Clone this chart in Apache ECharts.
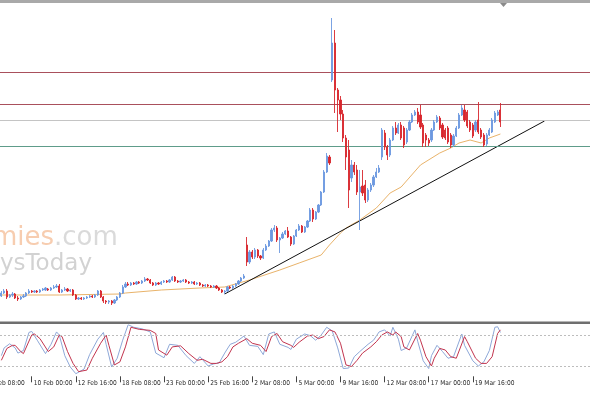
<!DOCTYPE html>
<html><head><meta charset="utf-8">
<script src="https://cdn.jsdelivr.net/npm/echarts@6/dist/echarts.min.js"></script>
<style>html,body{margin:0;padding:0;background:#fff}#c{width:590px;height:393px}</style>
</head><body><div id="c"></div>
<script>
// ---- data (hidden price axis, arbitrary units) ----
const VIEW_FIRST = 15.5, VIEW_LAST = 229.5;   // visible bar range (incl. chart-shift space on the right)
const FIRST_BAR = 16;                         // bar number of the first candle
const tickFirstBar = 11, tickStep = 16;
const tickLabels = ["6 Feb 08:00","10 Feb 00:00","12 Feb 16:00","18 Feb 08:00","23 Feb 00:00","25 Feb 16:00","2 Mar 08:00","5 Mar 00:00","9 Mar 16:00","12 Mar 08:00","17 Mar 00:00","19 Mar 16:00"];

const opens = [22,25,27,21,23,24,20,19,21,22, 25,27,26,27,26,28,28,29,28,30, 31,32,26,28,29,27,28,23,19,20, 19,20,21,22,21,23,27,21,17,16, 17,15,18,21,25,31,34,33,35,34, 36,35,37,39,38,35,33,35,34,36, 37,36,38,41,37,36,37,38,36,35, 36,34,35,33,32,33,32,31,32,30, 28,26,27,31,30,32,34,37,40,73, 56,66,61,68,62,60,68,72,77,88, 90,78,80,84,87,81,74,82,88,92, 86,91,97,108,99,106,113,126,146,161, 238,275,228,218,204,180,168,140,153,148, 126,132,133,118,128,133,141,146,161,185, 171,163,178,190,185,193,190,176,188,196, 203,206,203,193,183,178,178,188,196,200, 193,188,190,183,173,182,190,203,208,206, 196,193,188,198,188,183,174,183,186,196, 203,208];
const closes = [25,27,21,23,24,20,19,21,22,25, 27,26,27,26,28,29,30,28,30,31, 32,26,28,29,27,28,23,19,20,19, 20,21,22,21,23,27,21,17,16,17, 15,18,21,25,31,34,33,35,34,36, 35,37,39,38,35,33,35,34,36,37, 36,38,41,37,36,37,38,36,35,36, 34,35,33,32,33,32,31,32,30,28, 26,27,31,30,32,34,37,40,42,56, 66,61,68,62,60,68,72,77,88,90, 78,80,84,87,81,74,82,88,92,86, 91,97,108,99,106,113,126,146,162,155, 275,228,218,204,180,161,128,153,146,126, 131,125,118,128,133,141,146,150,188,171, 163,178,190,185,193,180,173,188,196,203, 206,196,191,175,178,175,188,196,201,190, 181,180,176,173,182,190,203,210,198,192, 188,182,196,186,181,173,183,188,198,205, 206,196];
const lows = [21,24,19,20,21,19,17,18,20,21, 24,25,25,25,25,27,27,27,27,29, 30,25,25,27,26,26,22,18,18,18, 18,19,20,20,20,22,20,15,14,14, 13,14,17,20,24,30,32,32,33,33, 34,34,36,37,34,32,32,33,33,35, 35,35,37,36,35,35,36,35,34,34, 33,33,32,31,31,31,30,30,29,27, 25,24,26,29,29,31,33,36,39,52, 54,59,59,60,58,59,67,71,76,86, 76,65,79,83,80,72,73,81,87,85, 85,90,96,96,98,105,112,125,145,153, 236,205,186,198,176,148,110,136,143,123, 88,122,115,116,126,131,140,145,158,168, 158,161,177,183,184,178,170,174,187,195, 202,194,189,171,171,172,176,187,195,188, 179,178,174,170,171,181,189,202,196,190, 186,180,186,184,179,171,172,182,185,195, 202,191];
const highs = [27,29,29,24,26,25,22,22,24,26, 29,28,28,28,29,30,31,30,31,33, 34,34,29,31,30,29,29,24,21,21, 21,22,23,23,24,28,28,22,18,18, 18,19,22,26,33,36,36,36,36,37, 37,38,41,40,39,36,36,36,37,38, 38,39,42,42,38,38,39,39,37,37, 37,36,36,34,34,34,33,33,33,31, 29,28,32,32,33,35,38,41,44,81, 68,68,70,69,63,70,74,78,90,93, 92,81,86,88,91,82,83,89,94,93, 92,98,110,110,107,114,127,148,165,163, 300,288,230,222,208,183,178,158,156,153, 148,148,138,130,135,143,150,153,190,188, 173,180,192,196,195,196,192,190,198,205, 208,210,213,195,185,180,190,198,203,202, 195,190,192,185,184,192,205,213,213,208, 198,195,198,216,190,185,185,190,200,207, 208,215];

const maBars   = [16,37,59,61,74,88,97,106,117,124,132,135,139,141,146,152,157,161,168,175,179,182,186,190,193,197];
const maValues = [23,23,24,25,28,30,31,38,48,55,63,73,85,90,98,110,125,131,153,165,170,175,178,175,180,184];

const trendBars = [97,213];
const trendValues = [24,197];

const resistanceLevels = [246,214];
const pivotLevel = 198;
const supportLevel = 172;

const stochKBars = [16,17,19,21,22,24,26,27,29,32,34,36,37,39,41,43,46,48,51,53,54,56,58,60,62,64,67,70,72,75,77,80,83,86,88,91,93,95,97,99,101,104,106,109,111,113,115,117,120,121,123,126,128,130,132,134,136,138,140,142,144,146,149,151,153,155,157,158,160,161,163,166,167,169,171,172,174,176,178,180,183,184,187,189,191,193,195,196,197];
const stochK     = [40,55,63,55,45,50,85,87,70,44,62,86,80,40,18,5,14,42,72,85,62,18,35,70,100,95,92,86,45,36,62,60,40,25,38,20,24,26,45,62,66,78,60,58,42,82,86,62,56,52,72,82,79,70,80,95,88,55,15,16,38,48,62,70,86,90,78,95,72,50,55,90,68,30,15,40,60,48,35,38,82,60,30,20,28,50,95,96,85];
const stochDBars = [16,18,20,21,23,24,27,28,30,33,35,37,38,40,42,44,47,49,52,54,55,57,59,61,63,66,70,72,73,76,78,81,84,87,89,92,94,96,98,100,102,105,107,110,112,114,116,118,121,122,124,127,129,131,133,135,137,139,141,143,145,147,150,152,154,156,158,159,161,162,164,167,168,170,172,173,175,177,179,181,184,185,188,190,192,194,196,197];
const stochD     = [31,54,60,60,48,44,80,82,73,48,57,80,77,48,25,9,12,35,64,80,60,22,28,57,95,91,89,83,51,41,57,59,44,31,33,25,25,28,38,57,64,73,64,60,48,77,83,67,60,56,66,78,80,73,77,90,86,64,22,19,31,45,57,67,80,86,80,86,77,57,51,83,70,38,20,35,54,51,38,35,77,67,35,25,25,38,83,90];
const stochLevels = [20,80];

// ---- build ----
const candles = opens.map((o, j) => [FIRST_BAR + j, o, closes[j], lows[j], highs[j]]);
const pairs = (xs, ys) => xs.map((x, i) => [x, ys[i]]);
const tickBars = tickLabels.map((_, k) => tickFirstBar + k * tickStep);
const labelFor = (v) => { const k = tickBars.indexOf(Math.round(v)); return k >= 0 ? tickLabels[k] : ''; };
const inView = tickBars.filter(b => b >= VIEW_FIRST && b <= VIEW_LAST);
const outView = tickBars.filter(b => b < VIEW_FIRST);

const BLUE = '#6c98e0', RED = '#d8262c';
const LABEL_FONT = '"Liberation Sans Narrow","DejaVu Sans Condensed",sans-serif';
const xBase = {type: 'value', min: VIEW_FIRST, max: VIEW_LAST, splitLine: {show: false}};

const chart = echarts.init(document.getElementById('c'), null, {renderer: 'canvas'});
chart.setOption({
  animation: false,
  backgroundColor: '#ffffff',
  grid: [
    {left: 0, right: 0, top: 3, height: 315},
    {left: 0, right: 0, top: 324.7, height: 51.6}
  ],
  xAxis: [
    Object.assign({gridIndex: 0, show: false}, xBase),
    Object.assign({gridIndex: 1,
     axisLine: {show: false},
     axisTick: {show: true, customValues: inView, length: 6, lineStyle: {color: '#444', width: 1}},
     axisLabel: {show: true, customValues: inView, formatter: labelFor, align: 'left', margin: 3, padding: [0,0,0,2],
       fontFamily: LABEL_FONT, fontSize: 6.6, color: '#2a2a2a'}}, xBase)
  ],
  yAxis: [
    {type: 'value', gridIndex: 0, min: 0, max: 315, show: false, splitLine: {show: false}},
    {type: 'value', gridIndex: 1, min: 0, max: 100, show: false, splitLine: {show: false}}
  ],
  graphic: [
    {id: 'wm1', type: 'text', z: 0, style: {x: 54, y: 251, text: 'economies', textAlign: 'right', textVerticalAlign: 'bottom', font: '26px "DejaVu Sans"', fill: '#f7cdb0'}},
    {id: 'wm2', type: 'text', z: 0, style: {x: 54, y: 251, text: '.com', textAlign: 'left', textVerticalAlign: 'bottom', font: '26px "DejaVu Sans"', fill: '#dadada'}},
    {id: 'wm3', type: 'text', z: 0, style: {x: 92, y: 276, text: 'ysToday', textAlign: 'right', textVerticalAlign: 'bottom', font: '23px "DejaVu Sans"', fill: '#d2d2d2'}},
    {id: 'topBar', type: 'rect', z: 100, shape: {x: 0, y: 0, width: 590, height: 3}, style: {fill: '#a9a9a9'}},
    {id: 'sep', type: 'rect', z: 100, shape: {x: 0, y: 321.5, width: 590, height: 2.5}, style: {fill: '#6f6f6f'}},
    {id: 'shift', type: 'polygon', z: 100, shape: {points: [[500, 3], [507, 3], [503.5, 7]]}, style: {fill: '#8a8a8a'}}
  ],
  series: [
    {type: 'line', xAxisIndex: 0, yAxisIndex: 0, data: pairs(maBars, maValues), symbol: 'none',
     lineStyle: {color: '#e9b36a', width: 1}, z: 3},
    {type: 'line', xAxisIndex: 0, yAxisIndex: 0, data: pairs(trendBars, trendValues), symbol: 'none',
     lineStyle: {color: '#111111', width: 1}, z: 4},
    {type: 'candlestick', xAxisIndex: 0, yAxisIndex: 0, data: candles, encode: {x: 0, y: [1, 2, 3, 4]},
     barWidth: 1.7, z: 5,
     itemStyle: {color: BLUE, color0: RED, borderColor: BLUE, borderColor0: RED, borderWidth: 0.9},
     markLine: {silent: true, symbol: 'none', label: {show: false}, animation: false,
       data: [
         ...resistanceLevels.map(v => ({yAxis: v, lineStyle: {color: '#a9505c', width: 1, type: 'solid'}})),
         {yAxis: pivotLevel, lineStyle: {color: '#c4c4c4', width: 1, type: 'solid'}},
         {yAxis: supportLevel, lineStyle: {color: '#5e9c8a', width: 1, type: 'solid'}}
       ]}},
    {type: 'line', xAxisIndex: 1, yAxisIndex: 1, data: pairs(stochKBars, stochK), symbol: 'none',
     lineStyle: {color: '#8ea8d8', width: 1}, z: 3,
     markLine: {silent: true, symbol: 'none', label: {show: false}, animation: false,
       lineStyle: {color: '#bdbdbd', width: 1, type: [2, 2]},
       data: stochLevels.map(v => ({yAxis: v}))}},
    {type: 'line', xAxisIndex: 1, yAxisIndex: 1, data: pairs(stochDBars, stochD), symbol: 'none',
     lineStyle: {color: '#c2344e', width: 1}, z: 4}
  ]
});

// tick labels whose bar lies left of the view are only partly visible: place them through the axis scale
const axisY = chart.convertToPixel({yAxisIndex: 1}, 0);
const extra = outView.map((b, k) => ({id: 'outLabel' + k, type: 'text', z: 10,
  style: {x: chart.convertToPixel({xAxisIndex: 1}, b) + 2, y: axisY + 3, text: labelFor(b),
    textAlign: 'left', textVerticalAlign: 'top', font: '6.6px ' + LABEL_FONT, fill: '#2a2a2a'}}));
chart.setOption({graphic: extra});
</script>
</body></html>
